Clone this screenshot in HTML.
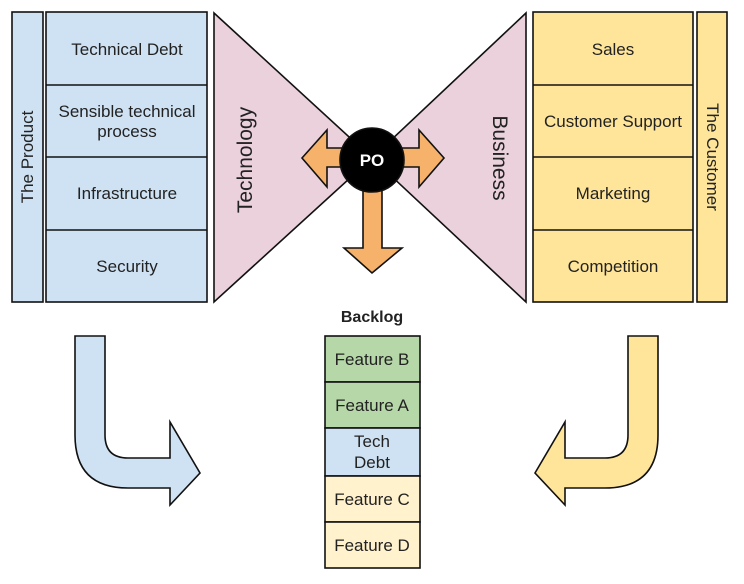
<!DOCTYPE html>
<html><head><style>
body{margin:0;background:#fff;width:744px;height:579px;overflow:hidden}
svg{font-family:"Liberation Sans",sans-serif}
</style></head><body>
<svg width="744" height="579" viewBox="0 0 744 579" xmlns="http://www.w3.org/2000/svg">
<g stroke="#111" stroke-width="1.6">
<rect x="12" y="12" width="31" height="290" fill="#cfe2f3"/>
<rect x="46" y="12" width="161" height="290" fill="#cfe2f3"/>
<line x1="46" y1="85" x2="207" y2="85"/><line x1="46" y1="157" x2="207" y2="157"/><line x1="46" y1="230" x2="207" y2="230"/>
<rect x="697" y="12" width="30" height="290" fill="#ffe599"/>
<rect x="533" y="12" width="160" height="290" fill="#ffe599"/>
<line x1="533" y1="85" x2="693" y2="85"/><line x1="533" y1="157" x2="693" y2="157"/><line x1="533" y1="230" x2="693" y2="230"/>
<polygon points="214,13 372,158 214,302" fill="#ead1dc"/>
<polygon points="526,13 372,158 526,302" fill="#ead1dc"/>
<polygon points="302,158 327,130 327,148 345,148 345,167 327,167 327,187" fill="#f6b26b"/>
<polygon points="444,158 419,130 419,148 400,148 400,167 419,167 419,187" fill="#f6b26b"/>
<polygon points="363,180 382,180 382,248 402,248 372,273 344,248 363,248" fill="#f6b26b"/>
<circle cx="372" cy="160" r="32" fill="#000"/>
<rect x="325" y="336" width="95" height="46" fill="#b6d7a8"/>
<rect x="325" y="382" width="95" height="46" fill="#b6d7a8"/>
<rect x="325" y="428" width="95" height="48" fill="#cfe2f3"/>
<rect x="325" y="476" width="95" height="46" fill="#fff2cc"/>
<rect x="325" y="522" width="95" height="46" fill="#fff2cc"/>
<path d="M75,336 H105 V435 Q105,458 128,458 H170 V422 L200,473 L170,505 V488 H128 Q75,488 75,435 Z" fill="#cfe2f3"/>
<path d="M658,336 H628 V435 Q628,458 605,458 H565 V422 L535,473 L565,505 V488 H605 Q658,488 658,435 Z" fill="#ffe599"/>
</g>
<g font-size="17" fill="#222" text-anchor="middle">
<text x="127" y="55">Technical Debt</text>
<text x="127" y="117">Sensible technical</text><text x="127" y="137">process</text>
<text x="127" y="199">Infrastructure</text>
<text x="127" y="272">Security</text>
<text x="613" y="55">Sales</text>
<text x="613" y="127">Customer Support</text>
<text x="613" y="199">Marketing</text>
<text x="613" y="272">Competition</text>
<text transform="translate(33,157) rotate(-90)">The Product</text>
<text transform="translate(707,157) rotate(90)">The Customer</text>
<text font-size="21" transform="translate(252,160) rotate(-90)">Technology</text>
<text font-size="21" transform="translate(493,158) rotate(90)">Business</text>
<text x="372" y="166" fill="#fff" font-weight="bold" font-size="17">PO</text>
<text x="372" y="322" font-weight="bold" font-size="16">Backlog</text>
<text x="372" y="365">Feature B</text>
<text x="372" y="411">Feature A</text>
<text x="372" y="447">Tech</text><text x="372" y="468">Debt</text>
<text x="372" y="505">Feature C</text>
<text x="372" y="551">Feature D</text>
</g>
</svg>
</body></html>
